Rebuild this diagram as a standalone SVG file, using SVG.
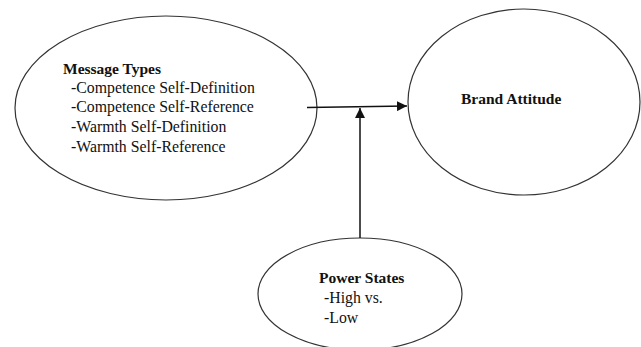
<svg xmlns="http://www.w3.org/2000/svg" width="641" height="347" viewBox="0 0 641 347">
<style>
.node ellipse{fill:#fff;stroke:#333;stroke-width:1.2}
text{font-family:"Liberation Serif","Times New Roman",serif;font-size:15.8px;fill:#111}
.b{font-weight:bold;font-size:15.5px}
.conn{stroke:#111;stroke-width:1.5;fill:none}
</style>
<defs>
<marker id="ah" viewBox="0 0 10 10" refX="10" refY="5" markerWidth="10" markerHeight="10" markerUnits="userSpaceOnUse" orient="auto">
<path d="M0,0 L10,5 L0,10 z" fill="#111"/>
</marker>
</defs>
<rect width="641" height="347" fill="#fff"/>
<g id="message-types" class="node">
<ellipse cx="166" cy="108" rx="151" ry="92"/>
<text x="63" y="74" class="b">Message Types</text>
<text x="71" y="93">-Competence Self-Definition</text>
<text x="71" y="112">-Competence Self-Reference</text>
<text x="71" y="132">-Warmth Self-Definition</text>
<text x="71" y="152">-Warmth Self-Reference</text>
</g>
<g id="brand-attitude" class="node">
<ellipse cx="524" cy="102" rx="116" ry="93"/>
<text x="461" y="104" class="b">Brand Attitude</text>
</g>
<g id="power-states" class="node">
<ellipse cx="360" cy="294" rx="102" ry="56"/>
<text x="319" y="283" class="b">Power States</text>
<text x="324" y="303">-High vs.</text>
<text x="324" y="323">-Low</text>
</g>
<g id="connectors">
<line class="conn" x1="307" y1="107.5" x2="407" y2="106" marker-end="url(#ah)"/>
<line class="conn" x1="360" y1="238" x2="360" y2="108" marker-end="url(#ah)"/>
</g>
</svg>
